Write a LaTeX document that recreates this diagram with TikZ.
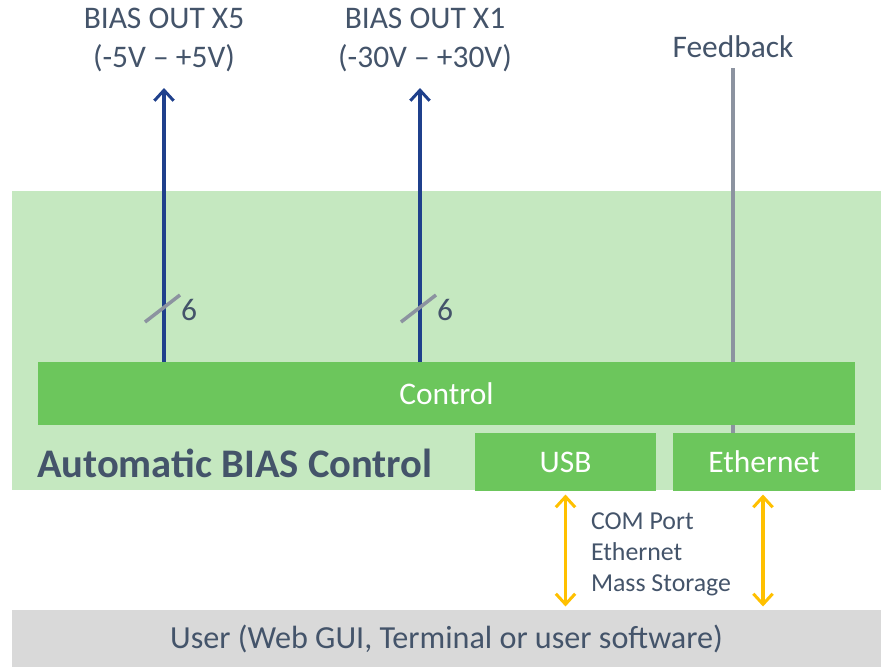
\documentclass[tikz,border=0pt]{standalone}
\usepackage{fontspec}
\setmainfont{Carlito}
\usetikzlibrary{arrows.meta}
\definecolor{lightgreen}{RGB}{197,232,192}
\definecolor{midgreen}{RGB}{108,198,92}
\definecolor{usergray}{RGB}{217,217,217}
\definecolor{textgray}{RGB}{68,84,106}
\definecolor{linegray}{RGB}{140,147,160}
\definecolor{biasblue}{RGB}{31,64,140}
\definecolor{linkyellow}{RGB}{255,192,0}

\begin{document}
\begin{tikzpicture}[x=0.02cm, y=-0.02cm,
   every node/.style = {inner sep=0pt, outer sep=0pt, text=textgray},
   area/.style = {fill=lightgreen, minimum width=17.38cm, minimum height=5.98cm},
   block/.style = {fill=midgreen, text=white, font=\fontsize{17.9}{20}\selectfont},
   userbar/.style = {fill=usergray, minimum width=17.38cm, minimum height=1.14cm, font=\fontsize{18.3}{20}\selectfont},
   title/.style = {align=center, font=\fontsize{17.9}{22.7}\selectfont},
   bus/.style = {biasblue, line width=2.2pt, -{Straight Barb[length=6pt, width=11pt, line width=1.7pt]}},
   link/.style = {linkyellow, line width=2.2pt, {Straight Barb[length=6pt, width=11pt, line width=1.7pt]}-{Straight Barb[length=6pt, width=11pt, line width=1.7pt]}},
   slash/.style = {linegray, line width=2pt},
   feed/.style = {linegray, line width=2pt}]
   \useasboundingbox (0,0) rectangle (887,667);
   \node[area] (abc) at (446.5,340.5) {};
   \node[font=\fontsize{23.1}{26}\selectfont\bfseries, anchor=west] (abclabel) at (37,463) {Automatic BIAS Control};
   \node[block, minimum width=3.64cm, minimum height=1.16cm] (eth) at (764,462) {Ethernet};
   \coordinate (fb) at (733,68);
   \draw[feed] (eth.north -| fb) -- (fb);
   \node[block, minimum width=16.34cm, minimum height=1.26cm] (ctrl) at (446.5,393.5) {Control};
   \node[block, minimum width=3.62cm, minimum height=1.16cm] (usb) at (565.5,462) {USB};
   \node[userbar] (user) at (446.5,638.5) {User (Web GUI, Terminal or user software)};
   \node[font=\fontsize{17.9}{20}\selectfont] (fblabel) at (733,47) {Feedback};
   \coordinate (out5) at (164,88);
   \coordinate (out1) at (420,88);
   \node[title] (out5label) at (164,40) {BIAS OUT X5\\(-5V – +5V)};
   \node[title] (out1label) at (425,40) {BIAS OUT X1\\(-30V – +30V)};
   \draw[bus] (ctrl.north -| out5) -- (out5);
   \draw[bus] (ctrl.north -| out1) -- (out1);
   \draw[slash] (145,322) -- (180,295);
   \draw[slash] (401,322) -- (436,295);
   \node[anchor=west, font=\fontsize{17.9}{20}\selectfont] (w5) at (181,310) {6};
   \node[anchor=west, font=\fontsize{17.9}{20}\selectfont] (w1) at (437,310) {6};
   \coordinate (ethlink) at (763,0);
   \draw[link] ([yshift=-2pt]usb.south) -- ([yshift=2pt]user.north -| usb.south);
   \draw[link] ([yshift=-2pt]eth.south -| ethlink) -- ([yshift=2pt]user.north -| ethlink);
   \node[anchor=west, align=left, font=\fontsize{14.7}{17.6}\selectfont] (proto) at (591,554) {COM Port\\Ethernet\\Mass Storage};
\end{tikzpicture}
\end{document}
